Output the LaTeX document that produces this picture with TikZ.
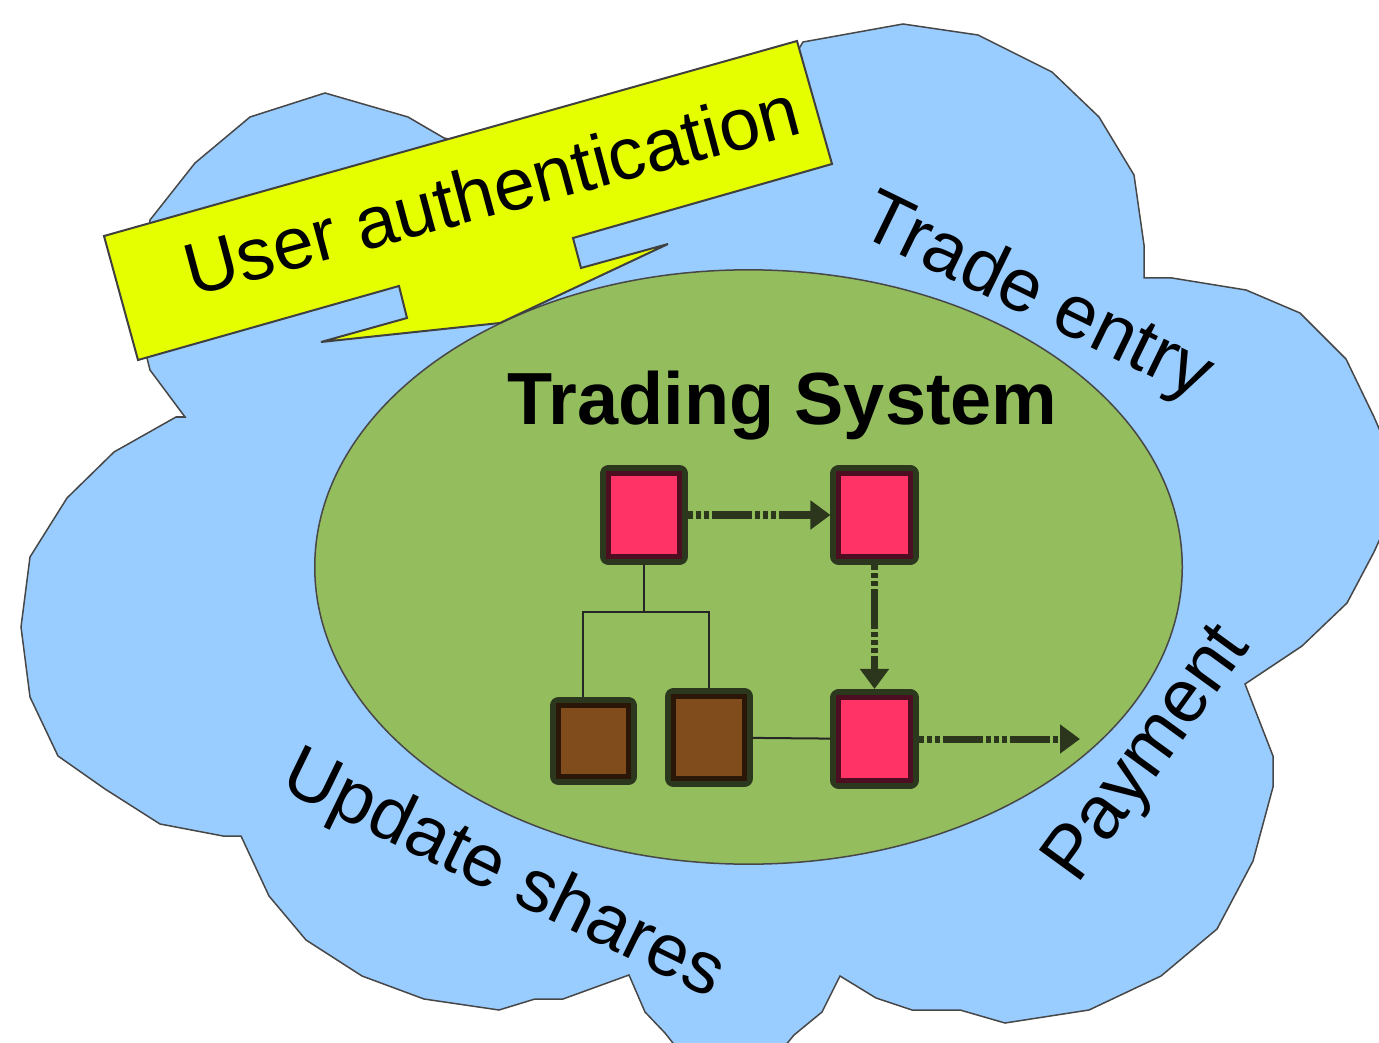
\documentclass[tikz,border=0pt]{standalone}
\usepackage{fontspec}
\setmainfont{Liberation Sans}
\usetikzlibrary{arrows.meta,shapes.geometric}
\definecolor{cloudblue}{RGB}{153,204,255}
\definecolor{systemgreen}{RGB}{148,189,94}
\definecolor{calloutyellow}{RGB}{230,255,0}
\definecolor{boxpink}{RGB}{255,51,102}
\definecolor{boxred}{RGB}{77,14,34}
\definecolor{boxbrown}{RGB}{128,76,28}
\definecolor{boxdark}{RGB}{42,23,8}
\definecolor{boxrim}{RGB}{43,56,30}
\definecolor{flowcol}{RGB}{43,54,28}
\tikzstyle{outline}=[draw=black!72,line width=0.015cm]
\tikzstyle{pinkbox}=[rectangle,minimum width=0.71cm,minimum height=0.83cm,inner sep=0pt,outer sep=0.085cm,
  fill=boxpink,draw=boxred,line width=0.05cm,preaction={draw=boxrim,line width=0.17cm,line join=round}]
\tikzstyle{brownbox}=[pinkbox,fill=boxbrown,draw=boxdark]
\tikzstyle{flow}=[draw=flowcol,line width=0.07cm,
  dash pattern=on 0.05cm off 0.03cm on 0.05cm off 0.03cm on 0.05cm off 0.03cm on 0.4cm off 0.03cm,
  -{Triangle[width=0.28cm,length=0.2cm]}]
\tikzstyle{wire}=[draw=black!85,line width=0.02cm]
\tikzstyle{caption}=[inner sep=0pt,anchor=base west,font=\fontsize{21.3}{26}\selectfont]
\tikzstyle{title}=[inner sep=0pt,anchor=base,font=\fontsize{21}{25}\selectfont\bfseries]

\begin{document}
\begin{tikzpicture}[x=0.01cm,y=-0.01cm]
  \useasboundingbox (0,0) rectangle (1379,1043);
  \draw[outline,fill=cloudblue] (150,220) -- (195,163) -- (250,117) -- (325,93) -- (408,117) -- (444,138)
    -- (500,150) -- (780,80) -- (803,42) -- (903,24) -- (978,35) -- (1052,72) -- (1099,117) -- (1134,175)
    -- (1144,245) -- (1144,278) -- (1172,278) -- (1246,290) -- (1300,313) -- (1346,359) -- (1374,417)
    -- (1384,440) -- (1384,530) -- (1374,552) -- (1347,603) -- (1302,646) -- (1245,684) -- (1273,756)
    -- (1273,787) -- (1253,861) -- (1217,929) -- (1161,976) -- (1089,1010) -- (1005,1023) -- (960,1010)
    -- (912,1010) -- (876,998) -- (840,976) -- (822,1012) -- (794,1035) -- (780,1052) -- (680,1052)
    -- (665,1033) -- (645,1012) -- (629,975) -- (563,999) -- (535,999) -- (499,1010) -- (424,999)
    -- (362,976) -- (306,940) -- (269,896) -- (241,836) -- (223,836) -- (160,824) -- (105,789)
    -- (58,756) -- (30,697) -- (21,627) -- (30,557) -- (67,498) -- (114,452) -- (176,417) -- (185,417)
    -- (150,370) -- (147,358) -- cycle;
  \node[ellipse,outline,fill=systemgreen,inner sep=0pt,minimum width=8.67cm,minimum height=5.94cm]
    (system) at (748.5,567) {};
  \draw[draw=black!75,line width=0.02cm,fill=calloutyellow] (104,236) -- (797,41) -- (832,164) -- (573,238)
    -- (581,268) -- (668,244) -- (500,323) -- (321,342) -- (407,318) -- (399,286) -- (138,360) -- cycle;

  \node[caption,rotate=15,font=\fontsize{20.9}{25}\selectfont] (auth) at (192,297) {User authentication};
  \node[title] (systemname) at (782.5,425) {Trading System};
  \node[caption,rotate=-26] (trade) at (856,233) {Trade entry};
  \node[caption,rotate=54] (payment) at (1077,886) {Payment};
  \node[caption,rotate=-26,font=\fontsize{21}{25}\selectfont] (update) at (278,788) {Update shares};

  \node[pinkbox] (pink1) at (644,515) {};
  \node[pinkbox] (pink2) at (874.5,515) {};
  \node[pinkbox] (pink3) at (874.5,739) {};
  \node[brownbox,minimum height=0.71cm,minimum width=0.70cm] (brown1) at (593.5,741) {};
  \node[brownbox,minimum height=0.82cm] (brown2) at (709,737.5) {};
  \coordinate (exit) at (1080,739);

  \draw[wire] (pink1.south) -- ++(0,47) coordinate (split);
  \draw[wire] (brown1.north) ++(-11,0) |- (split) -| (brown2.north);
  \draw[wire] (brown2) -- (pink3);
  \draw[flow] (pink1) -- (pink2);
  \draw[flow] (pink2) -- (pink3);
  \draw[flow] (pink3) -- (exit);
\end{tikzpicture}
\end{document}
